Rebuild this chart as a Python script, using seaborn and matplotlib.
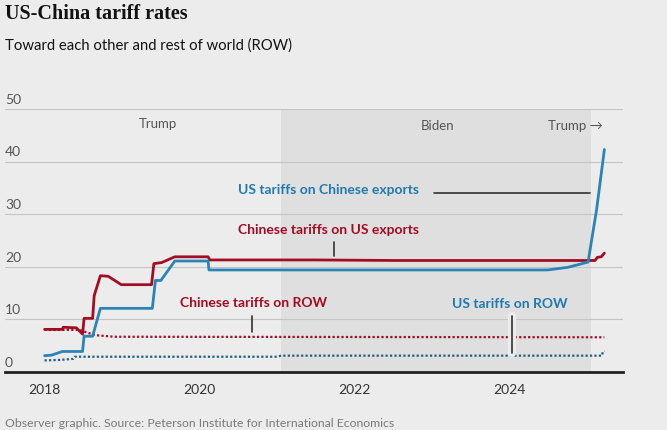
import matplotlib
matplotlib.use("Agg")
import pandas as pd
import matplotlib.pyplot as plt
import matplotlib.transforms as mtransforms
import matplotlib.patheffects as pe
import seaborn as sns

# values (year, average tariff rate %)
cn_on_us_year = [2018.0, 2018.23, 2018.24, 2018.41, 2018.49, 2018.51, 2018.62, 2018.64,
                 2018.72, 2018.82, 2018.99, 2019.38, 2019.41, 2019.51, 2019.68, 2020.11,
                 2020.13, 2021.5, 2022.5, 2025.01, 2025.10, 2025.13, 2025.18, 2025.22]
cn_on_us_rate = [8.1, 8.1, 8.5, 8.4, 7.2, 10.2, 10.2, 14.5,
                 18.3, 18.2, 16.6, 16.6, 20.6, 20.8, 21.9, 21.9,
                 21.3, 21.3, 21.2, 21.2, 21.2, 21.8, 21.9, 22.6]

us_on_cn_year = [2018.0, 2018.09, 2018.23, 2018.49, 2018.51, 2018.62, 2018.72, 2019.39,
                 2019.43, 2019.50, 2019.68, 2020.11, 2020.12, 2024.49, 2024.75, 2025.01,
                 2025.12, 2025.22]
us_on_cn_rate = [3.1, 3.2, 3.9, 3.9, 6.8, 6.8, 12.1, 12.1,
                 17.4, 17.4, 21.1, 21.1, 19.4, 19.4, 19.9, 20.9,
                 30.9, 42.3]

cn_on_row_year = [2018.0, 2018.45, 2018.65, 2018.9, 2025.22]
cn_on_row_rate = [8.0, 8.0, 7.0, 6.7, 6.6]

us_on_row_year = [2018.0, 2018.2, 2018.37, 2018.39, 2021.0, 2021.05, 2025.19, 2025.2, 2025.22]
us_on_row_rate = [2.2, 2.3, 2.5, 2.9, 2.9, 3.1, 3.1, 3.9, 4.0]

year_ticks = [2018, 2020, 2022, 2024]
rate_ticks = [0, 10, 20, 30, 40, 50]

biden_term = (2021.05, 2025.05)

RED = "#a30d24"
BLUE = "#2a84b6"
BG = "#ececec"

sns.set_style("white")
plt.rcParams["font.family"] = ["Lato", "DejaVu Sans"]

fig = plt.figure(figsize=(6.67, 4.31), dpi=100, facecolor=BG)
ax = fig.add_axes([0.0075, 0.1346, 0.9265, 0.6102])
ax.set_facecolor(BG)

ax.axvspan(*biden_term, color="#dfdfdf", zorder=0, lw=0)

def series(x, y):
    return pd.DataFrame({"year": x, "rate": y})

sns.lineplot(data=series(us_on_row_year, us_on_row_rate), x="year", y="rate", ax=ax,
             estimator=None, sort=False, color="#1d5f86", lw=1.6, ls=(0, (1, 1)), zorder=3)
sns.lineplot(data=series(cn_on_row_year, cn_on_row_rate), x="year", y="rate", ax=ax,
             estimator=None, sort=False, color=RED, lw=1.6, ls=(0, (1, 1)), zorder=3)
sns.lineplot(data=series(cn_on_us_year, cn_on_us_rate), x="year", y="rate", ax=ax,
             estimator=None, sort=False, color=RED, lw=2.0, zorder=4)
sns.lineplot(data=series(us_on_cn_year, us_on_cn_rate), x="year", y="rate", ax=ax,
             estimator=None, sort=False, color=BLUE, lw=2.0, zorder=5)

ax.set_xlim(2017.49, 2025.46)
ax.set_ylim(0, 50)
ax.set_xticks(year_ticks)
ax.set_xticklabels([str(y) for y in year_ticks])
ax.set_yticks(rate_ticks)
ax.tick_params(axis="y", length=0, labelleft=False)
ax.tick_params(axis="x", length=5, width=0.8, color="#bbbbbb", labelsize=10,
               labelcolor="#333333", pad=3)
ax.grid(axis="y", color="#c4c4c4", lw=0.8)
ax.grid(axis="x", visible=False)
ax.set_axisbelow(True)
for side in ["top", "left", "right"]:
    ax.spines[side].set_visible(False)
ax.spines["bottom"].set_color("#222222")
ax.spines["bottom"].set_linewidth(2)
ax.set_xlabel("")
ax.set_ylabel("")

trans = mtransforms.blended_transform_factory(ax.transAxes, ax.transData)
for v in rate_ticks:
    ax.annotate(str(v), xy=(0, v), xycoords=trans, xytext=(0, 3), textcoords="offset points",
                ha="left", va="bottom", fontsize=10, color="#555555")

# era labels
ax.text(2019.46, 47.4, "Trump", ha="center", va="center", fontsize=9.5, color="#555555")
ax.text(2023.07, 46.9, "Biden", ha="center", va="center", fontsize=9.5, color="#555555")
ax.text(2025.2, 46.9, "Trump \u2192", ha="right", va="center", fontsize=9.5, color="#555555")

# series labels with leader lines
halo = [pe.Stroke(linewidth=6, foreground=BG), pe.Normal()]
ax.text(2020.49, 34.7, "US tariffs on Chinese exports", ha="left", va="center",
        fontsize=10, fontweight="bold", color="#1f7aad")
ax.plot([2023.02, 2025.04], [34.1, 34.1], color="#333333", lw=1.2, zorder=6)

ax.text(2020.49, 27.2, "Chinese tariffs on US exports", ha="left", va="center",
        fontsize=10, fontweight="bold", color="#a30a22")
ax.plot([2021.73, 2021.73], [24.8, 22.1], color="#333333", lw=1.2, zorder=6)

ax.text(2019.75, 13.3, "Chinese tariffs on ROW", ha="left", va="center",
        fontsize=10, fontweight="bold", color="#a30a22")
ax.plot([2020.68, 2020.68], [10.7, 7.6], color="#333333", lw=1.2, zorder=6)

ax.text(2023.26, 13.1, "US tariffs on ROW", ha="left", va="center",
        fontsize=10, fontweight="bold", color="#1f7aad")
ax.plot([2024.03, 2024.03], [10.7, 3.7], color="#333333", lw=1.2, zorder=6,
        path_effects=halo)

fig.text(0.0075, 0.99, "US-China tariff rates", ha="left", va="top",
         fontsize=14.5, fontweight="bold", family=["Liberation Serif", "DejaVu Serif"],
         color="#121212")
fig.text(0.0075, 0.895, "Toward each other and rest of world (ROW)", ha="left", va="center",
         fontsize=10.7, color="#121212")
fig.text(0.0075, 0.018, "Observer graphic. Source: Peterson Institute for International Economics",
         ha="left", va="center", fontsize=8.8, color="#7a7a7a")

fig.savefig("out.png", dpi=100, facecolor=BG)
